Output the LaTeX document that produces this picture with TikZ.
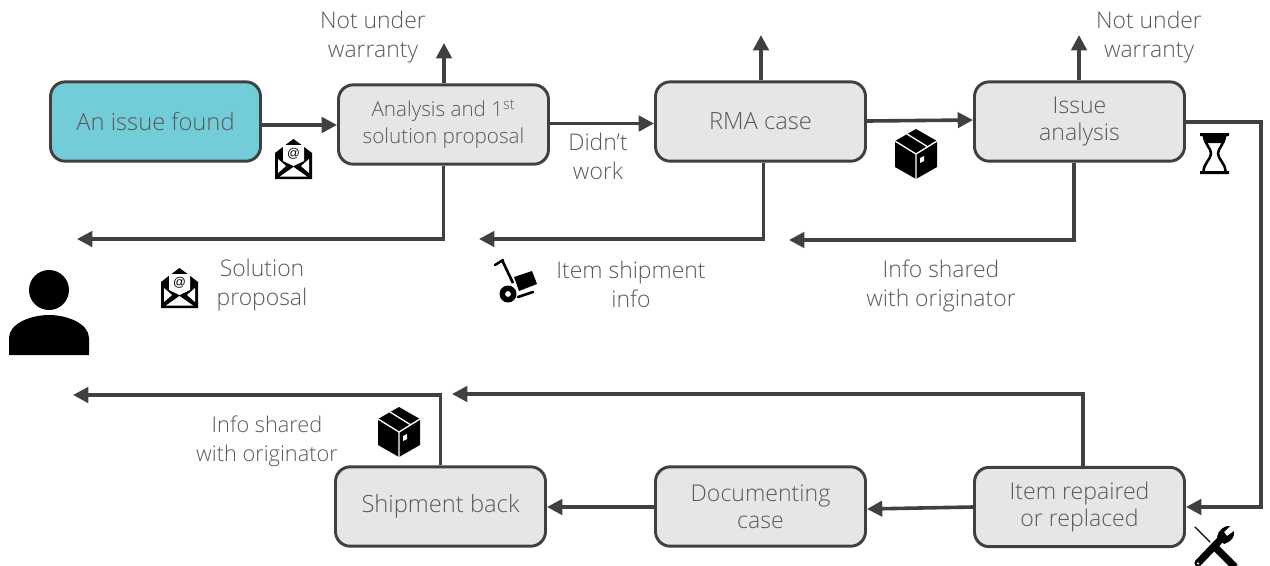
\documentclass[tikz,border=0pt]{standalone}
\usepackage{fontspec}
\setmainfont{Open Sans}[UprightFont=* Light]
\newfontfamily\iconfont{Liberation Sans}
\usetikzlibrary{arrows.meta,calc}
\definecolor{lineC}{HTML}{404040}
\definecolor{textC}{HTML}{595959}
\definecolor{boxC}{HTML}{E6E6E6}
\definecolor{tealC}{HTML}{72CDD8}
\tikzset{
  x=0.75pt,y=-0.75pt,
  flowbox/.style={draw=lineC,line width=2.2pt,rounded corners=11pt,fill=boxC,minimum width=157.5pt,minimum height=59.5pt,inner sep=0pt,text=textC,align=center,font=\fontsize{17.3}{20.5}\selectfont},
  bigbox/.style={flowbox,font=\fontsize{17.8}{20.5}\selectfont},
  smallbox/.style={flowbox,font=\fontsize{15.5}{20}\selectfont},
  note/.style={text=textC,align=center,inner sep=0pt,font=\fontsize{17.2}{21.7}\selectfont},
  smallnote/.style={note,font=\fontsize{16.3}{21.7}\selectfont},
  conn/.style={draw=lineC,line width=2.7pt,-{Triangle[length=11.5pt,width=11.5pt]}},
  envelope/.pic={
    \fill[black] (0,14)--(9,7)--(18.5,0)--(28,7)--(37,14)--(37,40)--(0,40)--cycle;
    \fill[white] (8,6)--(29,6)--(29,22)--(18.5,27)--(8,22)--cycle;
    \fill[white] (3,20)--(11,27)--(3,34)--cycle (34,20)--(26,27)--(34,34)--cycle (5,37.5)--(18.5,28)--(32,37.5)--cycle;
    \node[inner sep=0pt,text=black,font=\iconfont\fontsize{9.5}{9.5}\selectfont] at (18.5,15) {@};
  },
  parcel/.pic={
    \fill[black] (21,0)--(42,12)--(42,38)--(21,50)--(0,38)--(0,12)--cycle;
    \draw[white,line width=1pt] (0,12)--(21,25)--(42,12) (21,25)--(21,50) (12,5)--(33,18);
    \fill[white] (25,29)--(29,27)--(29,32)--(25,34)--cycle;
  },
  hourglass/.pic={
    \fill[black] (0,0)--(29,0)--(29,3)--(0,3)--cycle (0,38)--(29,38)--(29,41)--(0,41)--cycle;
    \fill[black] (2.5,3)--(26.5,3)--(24,10)--(5,10)--cycle;
    \draw[black,line width=1.9pt] (4,3) .. controls (5,12) and (11,15) .. (11,20.5) .. controls (11,26) and (4,30) .. (3.5,38) (25,3) .. controls (24,12) and (18,15) .. (18,20.5) .. controls (18,26) and (25,30) .. (25.5,38);
  },
  tools/.pic={
    \draw[black,line width=1pt,line cap=round] (2,2)--(17,17);
    \draw[black,line width=5.4pt] (20,20)--(42,42);
    \draw[black,line width=5.4pt,line cap=round] (5,38)--(28,14);
    \fill[black] (24,12) .. controls (25,5) and (32,0) .. (37,1) -- (31,7) -- (34,11) -- (41,6) .. controls (42,12) and (38,17) .. (31,19) -- cycle;
    \fill[white] (5,38.5) circle (1.1);
  },
  trolley/.pic={
    \draw[black,line width=1.9pt,line cap=round] (0,7)--(8,2);
    \draw[black,line width=2pt] (7,2)--(18,25);
    \fill[black] (19,19)--(37,13)--(42,26)--(24,33)--cycle;
    \draw[black,line width=2pt,line cap=round] (23,39)--(38,34);
    \fill[black,even odd rule] (13,36) circle (8.5) (13,36) circle (3);
  },
}
\begin{document}
\begin{tikzpicture}
\useasboundingbox (0,0) rectangle (1270,565);
% boxes
\node[bigbox,fill=tealC] (issue) at (155.5,121.5) {An issue found};
\node[smallbox] (analysis) at (443.5,124.5) {Analysis and 1\textsuperscript{st}\\solution proposal};
\node[bigbox] (rma) at (760.5,121.5) {RMA case};
\node[flowbox] (ianalysis) at (1079.5,121.5) {Issue\\analysis};
\node[flowbox] (repaired) at (1079.5,507) {Item repaired\\or replaced};
\node[flowbox] (doc) at (760.5,506.5) {Documenting\\case};
\node[bigbox] (ship) at (440.5,506.5) {Shipment back};
% free ends
\coordinate (upA) at (444,43);
\coordinate (upB) at (761,35);
\coordinate (upC) at (1079,35);
\coordinate (userA) at (77,239);
\coordinate (userB) at (479,239);
\coordinate (userC) at (789,240);
\coordinate (kneeR) at (1261,122);
\coordinate (backA) at (452,394);
\coordinate (backB) at (73,395);
% connectors
\draw[conn] (issue.east |- 0,125) -- (analysis.west |- 0,125);
\draw[conn] (analysis.east |- 0,123.5) -- (rma.west |- 0,123.5);
\draw[conn] (rma.east |- 0,121) -- (ianalysis.west |- 0,120);
\draw[conn] (analysis.north -| upA) -- (upA);
\draw[conn] (rma.north -| upB) -- (upB);
\draw[conn] (ianalysis.north -| upC) -- (upC);
\draw[conn] (analysis.south) -- (analysis.south |- userA) -- (userA);
\draw[conn] ([xshift=2.25pt]rma.south) -- ([xshift=2.25pt]rma.south |- userB) -- (userB);
\draw[conn] ([xshift=-4.1pt]ianalysis.south) -- ([xshift=-4.1pt]ianalysis.south |- userC) -- (userC);
\draw[conn] (ianalysis.east |- kneeR) -- (kneeR) -- (kneeR |- repaired.east) -- (repaired.east);
\draw[conn] (repaired.west) -- (doc.east |- 0,509);
\draw[conn] (doc.west |- 0,507) -- (ship.east |- 0,507);
\draw[conn] ([xshift=2.6pt]repaired.north) -- ([xshift=2.6pt]repaired.north |- backA) -- (backA);
\draw[conn] (ship.north) -- (ship.north |- backB) -- (backB);
% notes
\node[note] (n1) at (373,37) {Not under\\warranty};
\node[note] (n2) at (1149,37) {Not under\\warranty};
\node[note] (n3) at (598,156) {Didn’t\\work};
\node[note] (n4) at (262,285) {Solution\\proposal};
\node[note] (n5) at (631,284) {Item shipment\\info};
\node[note] (n6) at (941,286) {Info shared\\with originator};
\node[smallnote] (n7) at (267,441) {Info shared\\with originator};
% icons
\pic at (275,139) {envelope};
\pic at (161,268) {envelope};
\pic at (895,129) {parcel};
\pic at (378,407) {parcel};
\pic at (1200,133) {hourglass};
\pic at (1193,525) {tools};
\pic at (495,258) {trolley};
% person
\fill[black] (49,290) circle (20);
\fill[black] (9,355) -- (9,338) .. controls (9,324) and (30,315) .. (49,315) .. controls (68,315) and (89,324) .. (89,338) -- (89,355) -- cycle;
\end{tikzpicture}
\end{document}
